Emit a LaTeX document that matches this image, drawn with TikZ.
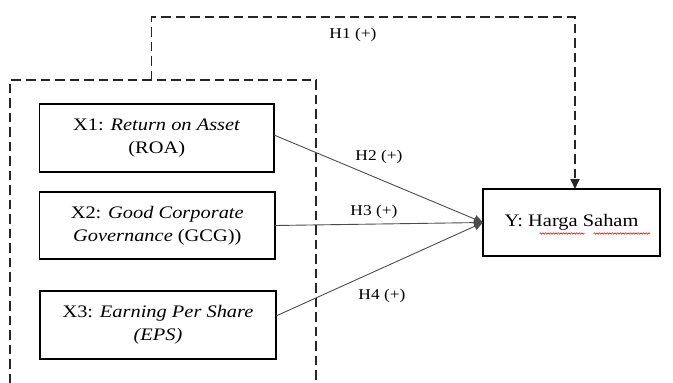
\documentclass[tikz,border=0pt]{standalone}
\usepackage{fontspec}
\setmainfont[FakeStretch=1.16]{Liberation Serif}
\usetikzlibrary{arrows.meta,calc,decorations.pathmorphing}
\begin{document}
\begin{tikzpicture}[x=1pt,y=-1pt,
  varbox/.style={draw=black,line width=1.6pt,inner sep=0pt,outer sep=0pt,
    align=center,font=\fontsize{17.6}{23}\selectfont},
  hyplabel/.style={font=\fontsize{15}{17}\selectfont,inner sep=0pt},
  pathline/.style={draw=black!70,line width=0.9pt,-{Triangle[length=9pt,width=8pt]}},
  groupline/.style={draw=black!85,line width=1.7pt,dash pattern=on 9.5pt off 5pt},
  spellmark/.style={draw=red!85!black,line width=0.5pt,
    decorate,decoration={snake,amplitude=0.8pt,segment length=2.6pt}}]
\useasboundingbox (0,0) rectangle (673,383);

% independent variables
\node[varbox,minimum width=234.5pt,minimum height=68pt] (X1) at (156.75,138)
  {X1: \textit{Return on Asset}\\(ROA)};
\node[varbox,minimum width=235.5pt,minimum height=67pt] (X2) at (157.25,225.5)
  {X2: \textit{Good Corporate}\\\textit{Governance} (GCG))};
\node[varbox,minimum width=236pt,minimum height=68pt] (X3) at (158,325)
  {X3: \textit{Earning Per Share}\\\textit{(EPS)}};

% dependent variable
\node[varbox,minimum width=177pt,minimum height=67pt] (Y) at (571.5,222.5)
  {Y: Harga Saham};

% spelling marks under the Y label
\coordinate (s1a) at (539.5,233.5);
\coordinate (s1b) at (584.5,233.5);
\coordinate (s2a) at (593.5,233.5);
\coordinate (s2b) at (650,233.5);
\draw[spellmark] (s1a) -- (s1b);
\draw[spellmark] (s2a) -- (s2b);

% open dashed group around X1..X3
\coordinate (gbl) at (10,383);
\coordinate (gtl) at (10,80);
\coordinate (gtr) at (316,80);
\coordinate (gbr) at (316,383);
\draw[groupline] (gbl) -- (gtl) -- (gtr) -- (gbr);

% simultaneous hypothesis H1
\coordinate (h1s) at (151.5,80);
\coordinate (h1l) at (151.5,17);
\coordinate (h1r) at (575,17);
\draw[groupline,-{Triangle[length=10pt,width=9pt]}]
  (h1s) -- (h1l) -- (h1r) -- (h1r |- Y.north);
\node[hyplabel] (lh1) at (353,35) {H1 (+)};

% partial hypotheses H2..H4
\draw[pathline] ($(X1.east)+(0,-3)$) -- (Y.west);
\draw[pathline] (X2.east) -- (Y.west);
\draw[pathline] ($(X3.east)+(0,-9)$) -- (Y.west);
\node[hyplabel] (lh2) at (379,157) {H2 (+)};
\node[hyplabel] (lh3) at (374,212) {H3 (+)};
\node[hyplabel] (lh4) at (382,296) {H4 (+)};
\end{tikzpicture}
\end{document}
